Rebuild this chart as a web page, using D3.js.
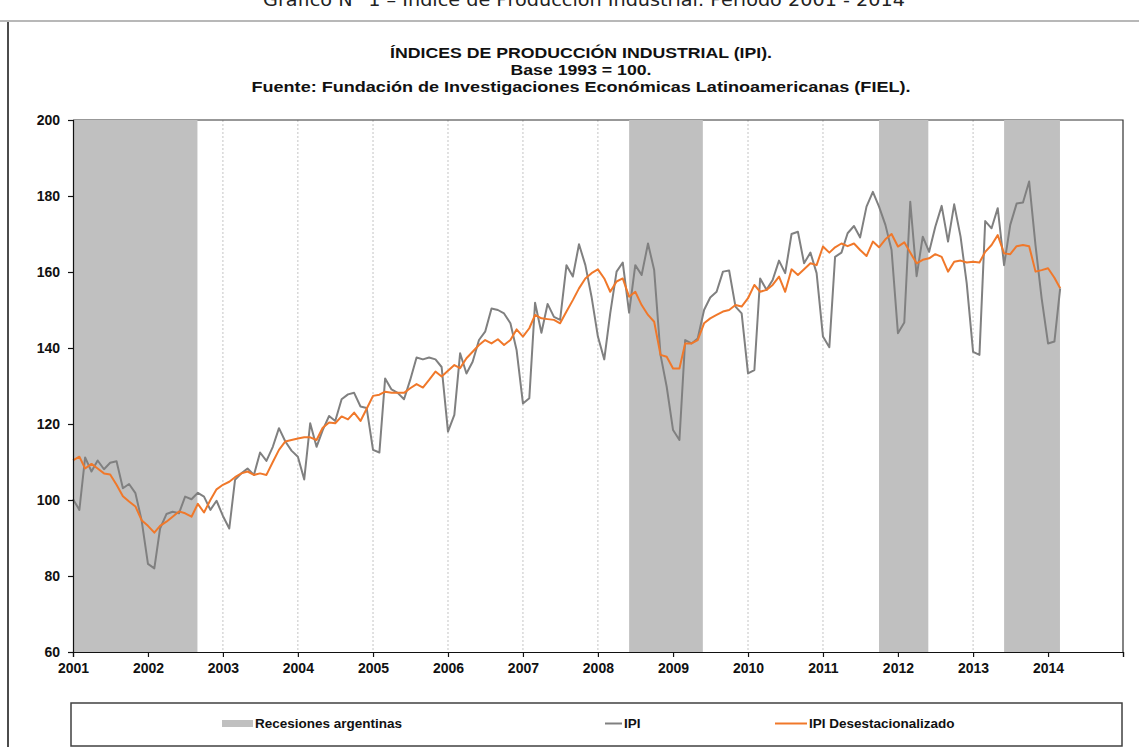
<!DOCTYPE html>
<html>
<head>
<meta http-equiv="Content-Type" content="text/html;charset=utf-8">
<script type="text/javascript" src="https://d3js.org/d3.v7.min.js"></script>
<style>
  body { margin: 0; background: #fff; }
  text { font-family: "Liberation Sans", Arial, sans-serif; }
</style>
</head>
<body>
<div id="chart"></div>
<script type="text/javascript">

// monthly series, first value = enero 2001
var startYear = 2001;
var ipi = [
  100.2, 97.4, 111.2, 107.5, 110.4, 108.1, 109.8, 110.2, 103.1, 104.2, 101.8, 94.7,
  83.2, 82.0, 92.5, 96.3, 96.9, 96.5, 100.9, 100.2, 101.9, 100.9, 97.4, 99.8,
  95.8, 92.5, 105.3, 107.0, 108.3, 106.6, 112.5, 110.3, 114.0, 118.9, 115.4, 113.0,
  111.4, 105.4, 120.2, 114.0, 118.4, 122.1, 120.8, 126.5, 127.8, 128.2, 124.6, 124.2,
  113.2, 112.5, 132.0, 129.1, 128.2, 126.5, 131.6, 137.5, 137.0, 137.5, 137.0, 135.0,
  118.0, 122.4, 138.6, 133.3, 136.4, 142.1, 144.3, 150.4, 150.0, 149.1, 146.5, 139.5,
  125.4, 126.8, 151.9, 144.0, 151.6, 148.2, 147.4, 161.8, 158.8, 167.3, 161.8, 153.5,
  143.0, 137.0, 149.1, 160.1, 162.5, 149.3, 161.8, 159.2, 167.5, 160.5, 138.2, 129.8,
  118.4, 115.8, 142.1, 141.2, 142.5, 150.0, 153.3, 154.8, 160.1, 160.4, 150.9, 149.1,
  133.3, 134.2, 158.3, 155.3, 157.9, 163.0, 159.7, 170.0, 170.6, 162.3, 165.1, 159.7,
  143.0, 140.2, 164.0, 165.1, 170.2, 172.1, 169.1, 177.2, 181.1, 177.2, 172.4, 165.8,
  143.9, 146.7, 178.5, 158.9, 169.3, 165.3, 171.9, 177.4, 168.0, 177.8, 169.3, 157.0,
  139.0, 138.2, 173.4, 171.5, 176.8, 161.8, 172.4, 178.0, 178.3, 183.8, 167.0, 153.0,
  141.2, 141.7, 155.7
];
var ipiDes = [
  110.4, 111.4, 108.3, 109.5, 108.3, 107.0, 106.7, 104.0, 101.0, 99.6, 98.3, 94.7,
  93.2, 91.4, 93.2, 94.3, 95.6, 97.0, 96.5, 95.6, 99.0, 96.7, 100.0, 102.8,
  104.0, 104.8, 106.0, 107.0, 107.5, 106.6, 107.0, 106.6, 110.0, 113.2, 115.4, 115.8,
  116.2, 116.5, 116.5, 115.8, 119.0, 120.4, 120.2, 122.0, 121.2, 123.0, 120.8, 124.0,
  127.4, 127.7, 128.5, 128.2, 128.2, 128.2, 129.4, 130.5, 129.6, 131.6, 133.8, 132.5,
  134.0, 135.5, 134.7, 137.3, 139.0, 140.8, 142.1, 141.2, 142.3, 140.8, 142.1, 144.9,
  143.0, 145.2, 148.7, 147.8, 147.6, 147.4, 146.5, 149.6, 152.6, 155.7, 158.3, 159.7,
  160.7, 158.3, 154.8, 157.5, 158.3, 153.5, 154.8, 151.3, 148.7, 146.9, 138.2, 137.7,
  134.6, 134.6, 141.2, 141.2, 142.1, 146.5, 147.8, 148.7, 149.6, 150.0, 151.3, 150.9,
  153.1, 156.6, 154.8, 155.3, 156.6, 158.8, 154.8, 160.7, 159.2, 160.7, 162.3, 161.8,
  166.7, 165.1, 166.5, 167.5, 166.8, 167.5, 165.8, 164.2, 168.0, 166.5, 168.6, 170.0,
  166.7, 167.8, 165.1, 162.3, 163.2, 163.6, 164.7, 164.0, 160.1, 162.7, 163.0, 162.5,
  162.7, 162.5, 165.3, 167.1, 169.7, 164.9, 164.7, 166.8, 167.1, 166.8, 160.1, 160.5,
  161.0, 158.5, 155.7
];
var recesiones = [
  ["2001-01-01", "2002-08-30"],
  ["2008-06-01", "2009-05-26"],
  ["2011-10-01", "2012-05-28"],
  ["2013-06-01", "2014-02-28"]
];
var yearLabels = ["2001","2002","2003","2004","2005","2006","2007","2008","2009","2010","2011","2012","2013","2014"];
var yTicks = [60, 80, 100, 120, 140, 160, 180, 200];

var parse = d3.timeParse("%Y-%m-%d");

var W = 1139, H = 747;
var plotL = 73, plotR = 1123, plotT = 120, plotB = 652;

var svg = d3.select("#chart").append("svg")
    .attr("width", W)
    .attr("height", H);

// encabezado de la pagina (cortado arriba)
svg.append("text")
    .attr("x", 584).attr("y", 6)
    .attr("text-anchor", "middle")
    .attr("textLength", 642)
    .attr("lengthAdjust", "spacingAndGlyphs")
    .style("font-family", "'DejaVu Sans', sans-serif")
    .style("font-size", "18px")
    .attr("fill", "#222")
    .text("Gráfico N° 1 – Índice de Producción Industrial. Período 2001 - 2014");

// marco del grafico
svg.append("line").attr("x1", 0).attr("x2", W).attr("y1", 21).attr("y2", 21)
    .attr("stroke", "#b8b8b8").attr("stroke-width", 2);
svg.append("line").attr("x1", 8).attr("x2", 8).attr("y1", 22).attr("y2", H)
    .attr("stroke", "#111").attr("stroke-width", 1.5);

var titles = ["ÍNDICES DE PRODUCCIÓN INDUSTRIAL (IPI).",
              "Base 1993 = 100.",
              "Fuente: Fundación de Investigaciones Económicas Latinoamericanas (FIEL)."];
var titleWidths = [382, 141, 659];
svg.selectAll(".title")
    .data(titles)
    .enter().append("text")
    .attr("class", "title")
    .attr("x", 581)
    .attr("y", function (d, i) { return 58 + i * 17; })
    .attr("text-anchor", "middle")
    .attr("textLength", function (d, i) { return titleWidths[i]; })
    .attr("lengthAdjust", "spacingAndGlyphs")
    .style("font-size", "14px")
    .style("font-weight", "bold")
    .attr("fill", "#111")
    .text(function (d) { return d; });

var x = d3.scaleTime()
    .domain([new Date(2001, 0, 1), new Date(2015, 0, 1)])
    .range([plotL, plotR]);
var y = d3.scaleLinear()
    .domain([60, 200])
    .range([plotB, plotT]);

var dates = ipi.map(function (d, i) { return new Date(startYear, i, 1); });

// lineas de division por año
svg.append("g")
    .selectAll("line")
    .data(yearLabels.slice(1))
    .enter().append("line")
    .attr("x1", function (d) { return x(new Date(+d, 0, 1)); })
    .attr("x2", function (d) { return x(new Date(+d, 0, 1)); })
    .attr("y1", plotT).attr("y2", plotB)
    .attr("stroke", "#c4c4c4")
    .attr("stroke-dasharray", "2,2");

// borde superior y derecho del area
svg.append("path")
    .attr("d", "M" + plotL + "," + plotT + "H" + plotR + "V" + plotB)
    .attr("fill", "none")
    .attr("stroke", "#333")
    .attr("stroke-width", 1.2);

// recesiones
svg.append("g")
    .selectAll("rect")
    .data(recesiones)
    .enter().append("rect")
    .attr("x", function (d) { return x(parse(d[0])); })
    .attr("width", function (d) { return x(parse(d[1])) - x(parse(d[0])); })
    .attr("y", plotT)
    .attr("height", plotB - plotT)
    .attr("fill", "#c0c0c0");

var line = d3.line()
    .x(function (d, i) { return x(dates[i]); })
    .y(function (d) { return y(d); });

svg.append("path")
    .datum(ipi)
    .attr("d", line)
    .attr("fill", "none")
    .attr("stroke", "#808080")
    .attr("stroke-width", 2)
    .attr("stroke-linejoin", "round");

svg.append("path")
    .datum(ipiDes)
    .attr("d", line)
    .attr("fill", "none")
    .attr("stroke", "#f0782a")
    .attr("stroke-width", 2)
    .attr("stroke-linejoin", "round");

// ejes
var yAxis = svg.append("g")
    .attr("transform", "translate(" + plotL + ",0)")
    .call(d3.axisLeft(y).tickValues(yTicks).tickSize(5).tickPadding(8));
var xAxis = svg.append("g")
    .attr("transform", "translate(0," + plotB + ")")
    .call(d3.axisBottom(x)
        .tickValues(yearLabels.concat(["2015"]).map(function (d) { return new Date(+d, 0, 1); }))
        .tickSize(5).tickPadding(6)
        .tickFormat(function (d) { return d.getFullYear() < 2015 ? d3.timeFormat("%Y")(d) : ""; }));

[yAxis, xAxis].forEach(function (a) {
  a.select(".domain").attr("stroke", "#111").attr("stroke-width", 1.2);
  a.selectAll(".tick line").attr("stroke", "#111").attr("stroke-width", 1.2);
  a.selectAll(".tick text")
      .attr("fill", "#111")
      .style("font-family", "'Liberation Sans', Arial, sans-serif")
      .style("font-size", "14px")
      .style("font-weight", "bold");
});

// leyenda
var lg = svg.append("g");
lg.append("rect")
    .attr("x", 71).attr("y", 703)
    .attr("width", 1051).attr("height", 43)
    .attr("fill", "#fff")
    .attr("stroke", "#404040")
    .attr("stroke-width", 1.5);

var legendItems = [
  { label: "Recesiones argentinas", type: "rect", color: "#c0c0c0", x0: 222, x1: 253 },
  { label: "IPI", type: "line", color: "#808080", x0: 605, x1: 622 },
  { label: "IPI Desestacionalizado", type: "line", color: "#f0782a", x0: 775, x1: 807 }
];
legendItems.forEach(function (d) {
  if (d.type == "rect") {
    lg.append("rect").attr("x", d.x0).attr("y", 720)
        .attr("width", d.x1 - d.x0).attr("height", 7).attr("fill", d.color);
  } else {
    lg.append("line").attr("x1", d.x0).attr("x2", d.x1).attr("y1", 723.5).attr("y2", 723.5)
        .attr("stroke", d.color).attr("stroke-width", 2);
  }
  lg.append("text")
      .attr("x", d.x1 + 2).attr("y", 728)
      .style("font-size", "13.5px")
      .style("font-weight", "bold")
      .attr("fill", "#111")
      .text(d.label);
});

</script>
</body>
</html>
